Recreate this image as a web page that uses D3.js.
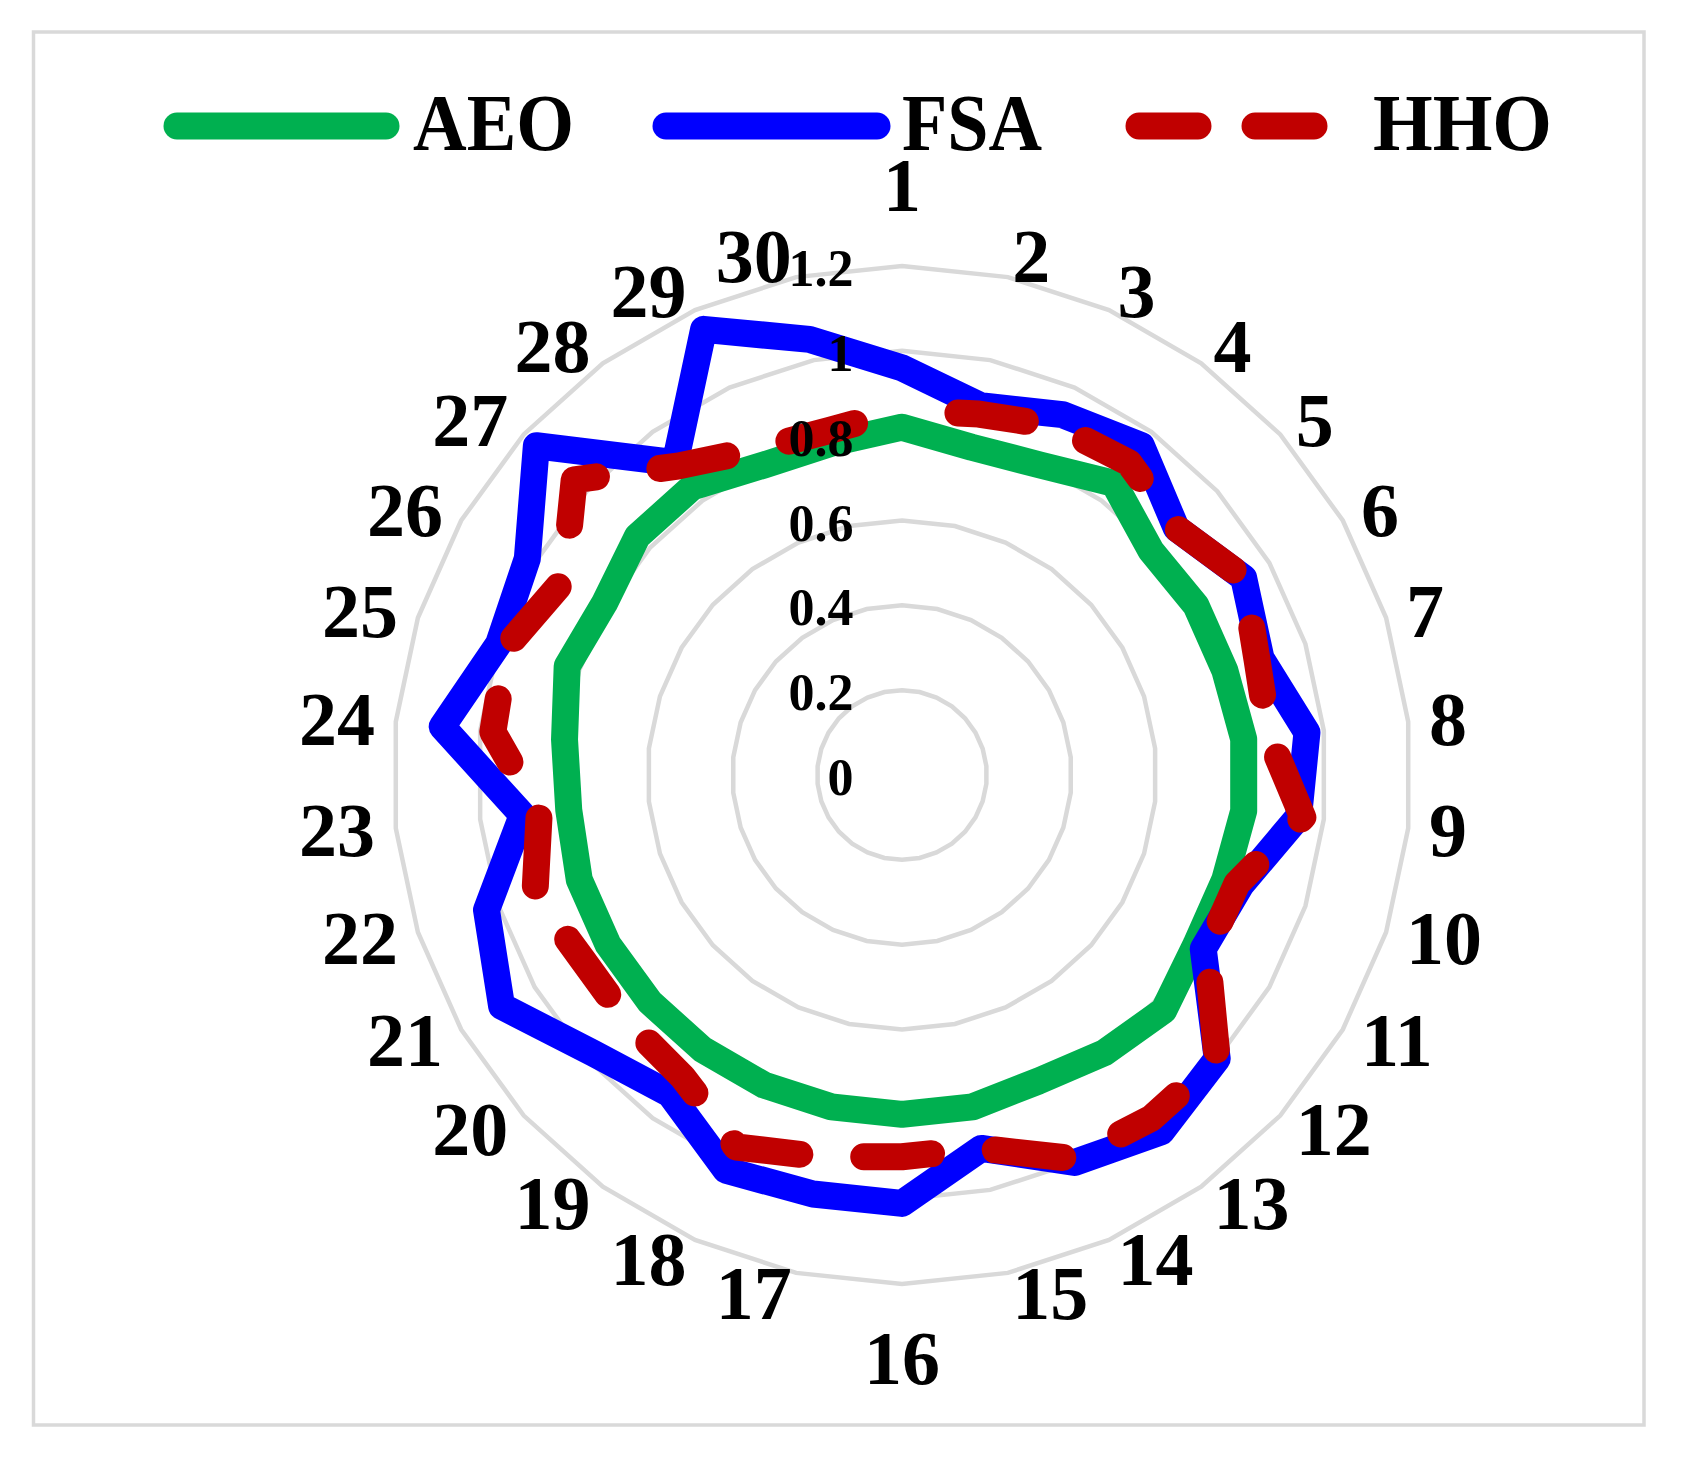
<!DOCTYPE html>
<html><head><meta charset="utf-8">
<script src="https://cdn.jsdelivr.net/npm/d3@7"></script>
<style>
html,body{margin:0;padding:0;background:#fff;}
svg{display:block;}
text{font-family:"Liberation Serif","Times New Roman",serif;font-weight:bold;fill:#000;}
</style></head><body>
<svg id="chart" width="1684" height="1460"></svg>
<script>
const categories = ["1","2","3","4","5","6","7","8","9","10","11","12","13","14","15","16","17","18","19","20","21","22","23","24","25","26","27","28","29","30"];
const seriesNames = ["AEO","FSA","HHO"];
const AEO = [0.82,0.79,0.80,0.85,0.79,0.80,0.80,0.81,0.81,0.80,0.80,0.83,0.81,0.79,0.80,0.80,0.80,0.80,0.80,0.80,0.80,0.80,0.79,0.80,0.83,0.81,0.84,0.84,0.80,0.80];
const FSA = [0.96,0.89,0.93,0.96,0.87,0.93,0.89,0.96,0.94,0.84,0.82,1.00,1.04,1.00,0.90,1.01,1.01,1.02,0.93,0.98,1.09,1.03,0.90,1.09,1.00,1.02,1.16,0.91,1.15,1.05];
const HHO = [0.86,0.87,0.90,0.91,0.87,0.93,0.88,0.87,0.95,0.83,0.83,1.00,1.00,0.99,0.90,0.90,0.92,0.96,0.88,0.87,0.87,0.91,0.86,0.97,0.98,0.92,1.04,0.90,0.84,0.83];
const tickValues = [0,0.2,0.4,0.6,0.8,1,1.2];
const tickLabels = ["0","0.2","0.4","0.6","0.8","1","1.2"];
const colors = ["#00B050","#0000FF","#C00000"];

const svg = d3.select("#chart");
const cx = 902, cy = 775;
const r = d3.scaleLinear().domain([0,1.2]).range([0,509]);
const n = categories.length;
const ang = d3.scaleLinear().domain([0,n]).range([0,2*Math.PI]);

// border
svg.append("rect").attr("x",33.5).attr("y",32).attr("width",1610.5).attr("height",1393)
  .attr("fill","none").attr("stroke","#d9d9d9").attr("stroke-width",3.5);

const g = svg.append("g").attr("transform",`translate(${cx},${cy})`);

// grid rings
const ringLine = d3.lineRadial().angle((d,i)=>ang(i)).radius(d=>r(d)).curve(d3.curveLinearClosed);
tickValues.filter(v=>v>0).forEach(v=>{
  g.append("path").attr("d",ringLine(categories.map(()=>v)))
    .attr("fill","none").attr("stroke","#d9d9d9").attr("stroke-width",4.5);
});

// category labels
const D = 530, fs = 76;
categories.forEach((c,i)=>{
  const t = ang(i), s = Math.sin(t), co = Math.cos(t);
  let x = D*s, y = -D*co, anchor;
  if (Math.abs(s) < 1e-6) { anchor = "middle"; y += co>0 ? -60 : 53; }
  else anchor = s>0 ? "start" : "end";
  g.append("text").attr("x",x).attr("y",y+0.338*fs).attr("text-anchor",anchor)
    .attr("font-size",fs).text(c);
});

// series
const seriesLine = d3.lineRadial().angle((d,i)=>ang(i)).radius(d=>r(d)).curve(d3.curveLinearClosed);
[AEO,FSA,HHO].forEach((data,k)=>{
  const p = g.append("path").attr("d",seriesLine(data)).attr("fill","none")
    .attr("stroke",colors[k]).attr("stroke-width",27).attr("stroke-linejoin","round");
  if (k===2) p.attr("stroke-dasharray","68 64").attr("stroke-dashoffset",76).attr("stroke-linecap","round");
});

// tick labels (drawn above the series)
g.selectAll("text.tick").data(tickValues).enter().append("text")
  .attr("class","tick").attr("x",-48.5).attr("y",d=>-r(d)+20)
  .attr("text-anchor","end").attr("font-size",52).text((d,i)=>tickLabels[i]);

// legend
const legendItems = [
  {x1:177,x2:386,tx:413,w:161,dash:null},
  {x1:666,x2:877,tx:902,w:140,dash:null},
  {x1:1139,x2:1315,tx:1373,w:179,dash:"59 57"}
];
legendItems.forEach((it,k)=>{
  const l = svg.append("line").attr("x1",it.x1).attr("x2",it.x2).attr("y1",126).attr("y2",126)
    .attr("stroke",colors[k]).attr("stroke-width",27).attr("stroke-linecap","round");
  if (it.dash) l.attr("stroke-dasharray",it.dash);
  svg.append("text").attr("x",it.tx).attr("y",150).attr("font-size",80)
    .attr("textLength",it.w).attr("lengthAdjust","spacingAndGlyphs").text(seriesNames[k]);
});
</script>
</body></html>
